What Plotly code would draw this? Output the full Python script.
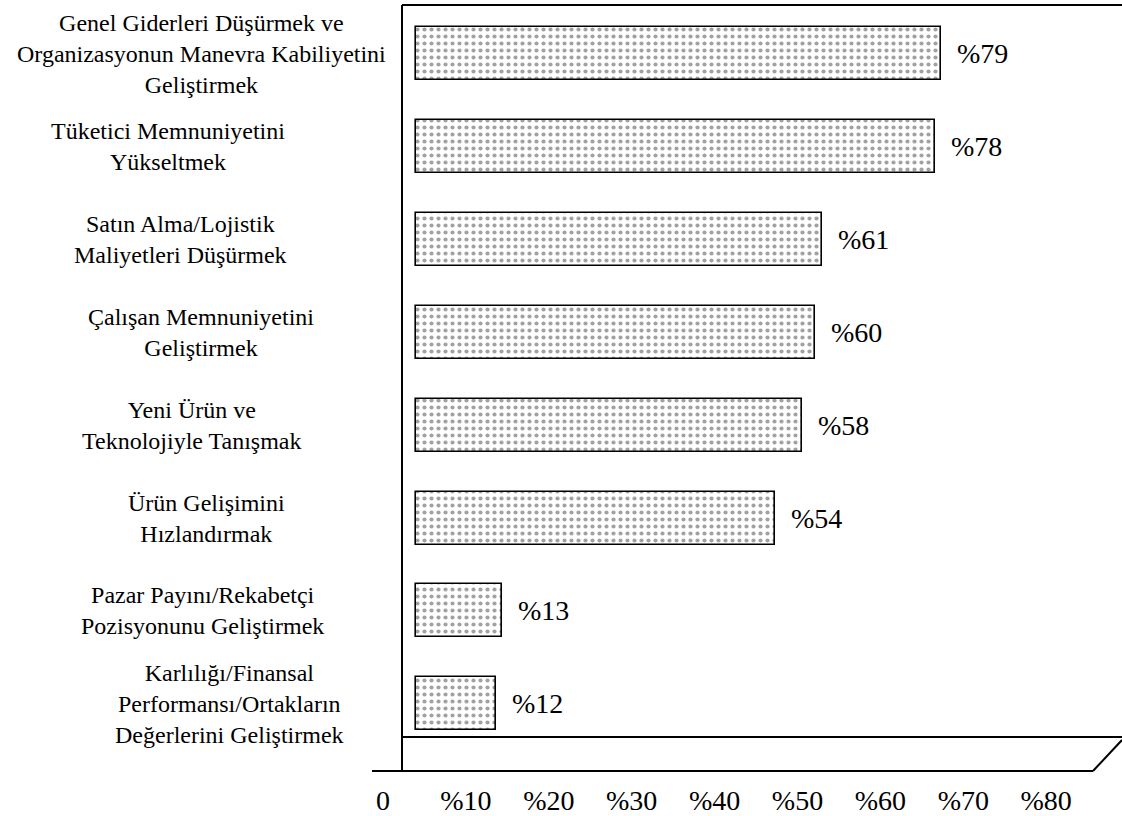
import plotly.graph_objects as go

# Survey results: goals of the companies, share of respondents (%)
categories = [
    "Genel Giderleri Düşürmek ve<br>Organizasyonun Manevra Kabiliyetini<br>Geliştirmek",
    "Tüketici Memnuniyetini<br>Yükseltmek",
    "Satın Alma/Lojistik<br>Maliyetleri Düşürmek",
    "Çalışan Memnuniyetini<br>Geliştirmek",
    "Yeni Ürün ve<br>Teknolojiyle Tanışmak",
    "Ürün Gelişimini<br>Hızlandırmak",
    "Pazar Payını/Rekabetçi<br>Pozisyonunu Geliştirmek",
    "Karlılığı/Finansal<br>Performansı/Ortakların<br>Değerlerini Geliştirmek",
]
values = [79, 78, 61, 60, 58, 54, 13, 12]

tick_values = [0, 10, 20, 30, 40, 50, 60, 70, 80]
tick_labels = ["0", "%10", "%20", "%30", "%40", "%50", "%60", "%70", "%80"]

# ---- layout geometry (pixels) ----
W, H = 1122, 816
ML, MR, MT, MB = 372, 0, 5, 45
PW, PH = W - ML - MR, H - MT - MB
label_centers_px = [201, 168, 180, 201, 192, 206, 202, 229]

FONT = "Liberation Serif"


def px_x(px):
    return (px - ML) / PW


def px_y(py):
    return (H - MB - py) / PH


fig = go.Figure()

# empty trace so the percent scale axis gets drawn
fig.add_trace(go.Scatter(x=[], y=[], xaxis="x", yaxis="y",
                         showlegend=False, hoverinfo="skip"))

fig.add_trace(go.Bar(
    x=values,
    y=list(range(len(categories))),
    orientation="h",
    xaxis="x2",
    width=0.57,
    marker=dict(
        color="white",
        line=dict(color="black", width=1.6),
        pattern=dict(shape=".", size=7, solidity=0.28,
                     fgcolor="#444444", bgcolor="white", fillmode="overlay"),
    ),
    hoverinfo="skip",
    showlegend=False,
))

annotations = []
# category labels, centred text blocks left of the frame
for i, (cat, cx) in enumerate(zip(categories, label_centers_px)):
    annotations.append(dict(
        x=px_x(cx), xref="paper", y=i, yref="y",
        text=cat, showarrow=False, align="center",
        xanchor="center", yanchor="middle",
        font=dict(family=FONT, size=24, color="black"),
    ))
# value labels right of each bar
for i, v in enumerate(values):
    annotations.append(dict(
        x=v, xref="x2", y=i, yref="y",
        text=f"%{v}", showarrow=False,
        xanchor="left", yanchor="middle", xshift=14,
        font=dict(family=FONT, size=28, color="black"),
    ))

line_style = dict(color="black", width=2)
shapes = [
    # top edge
    dict(type="line", xref="paper", yref="paper",
         x0=px_x(402), y0=px_y(5), x1=px_x(1122), y1=px_y(5), line=line_style),
    # left wall
    dict(type="line", xref="paper", yref="paper",
         x0=px_x(402), y0=px_y(5), x1=px_x(402), y1=px_y(771), line=line_style),
    # back edge of the floor
    dict(type="line", xref="paper", yref="paper",
         x0=px_x(402), y0=px_y(737), x1=px_x(1122), y1=px_y(737), line=line_style),
    # front edge of the floor
    dict(type="line", xref="paper", yref="paper",
         x0=px_x(372), y0=px_y(771), x1=px_x(1093), y1=px_y(771), line=line_style),
    # floor side edge
    dict(type="line", xref="paper", yref="paper",
         x0=px_x(1093), y0=px_y(771), x1=px_x(1122), y1=px_y(740), line=line_style),
]

# percent scale: 0 at ~383 px, 8.29 px per point
sx = 8.29
x0_px = 383
# bar scale: 0 at 416 px, 6.65 px per point
bx = 6.65
b0_px = 416

fig.update_layout(
    width=W, height=H,
    margin=dict(l=ML, r=MR, t=MT, b=MB, pad=0),
    paper_bgcolor="white",
    plot_bgcolor="white",
    font=dict(family=FONT, color="black"),
    xaxis=dict(
        range=[(ML - x0_px) / sx, (W - MR - x0_px) / sx],
        tickmode="array", tickvals=tick_values, ticktext=tick_labels,
        showgrid=False, zeroline=False, showline=False, ticks="",
        ticklabelstandoff=10,
        tickfont=dict(family=FONT, size=28, color="black"),
        fixedrange=True,
    ),
    xaxis2=dict(
        overlaying="x", anchor="y",
        range=[(ML - b0_px) / bx, (W - MR - b0_px) / bx],
        visible=False, fixedrange=True,
    ),
    yaxis=dict(
        range=[7.723, -0.522],
        showticklabels=False, showgrid=False, zeroline=False,
        showline=False, ticks="", fixedrange=True,
    ),
    bargap=0,
    annotations=annotations,
    shapes=shapes,
)

fig.write_html("out.html")
